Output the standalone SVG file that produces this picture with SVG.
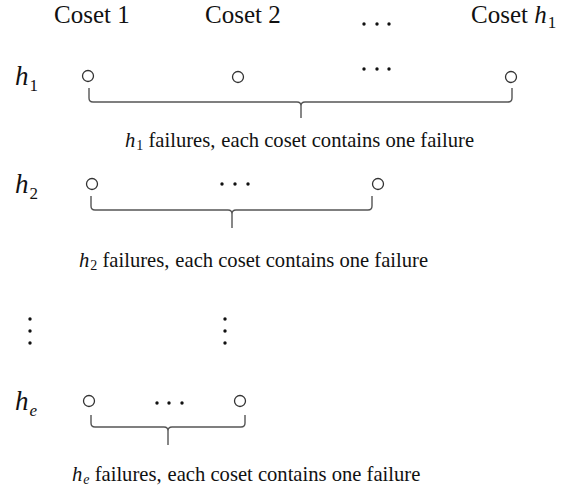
<svg xmlns="http://www.w3.org/2000/svg" width="579" height="492" viewBox="0 0 579 492">
<style>
.hd{font-family:"Liberation Serif","Times New Roman",serif;font-size:25px;fill:#111}
.lb{font-family:"Liberation Serif","Times New Roman",serif;font-size:27px;font-style:italic;fill:#111}
.sub{font-size:17px;font-style:normal}
.tx{font-family:"Liberation Serif","Times New Roman",serif;font-size:20.6px;fill:#111}
.ts{font-size:14px;font-style:normal}
.it{font-style:italic}
.node{fill:#fff;stroke:#333;stroke-width:1.3}
.br{fill:none;stroke:#555;stroke-width:1.4}
.dot{fill:#111}
</style>
<defs>
<circle id="d" r="1.7"/>
</defs>
<g id="headings">
<text class="hd" x="54" y="23">Coset 1</text>
<text class="hd" x="205" y="23">Coset 2</text>
<g class="dot"><use href="#d" x="364" y="24"/><use href="#d" x="377" y="24"/><use href="#d" x="389" y="24"/></g>
<text class="hd" x="471" y="23">Coset <tspan style="font-style:italic">h</tspan><tspan class="sub" dx="1" dy="5">1</tspan></text>
</g>
<g id="row1">
<text class="lb" x="15" y="85">h<tspan class="sub" dx="1" dy="6">1</tspan></text>
<circle class="node" cx="88" cy="76" r="5.5"/>
<circle class="node" cx="238" cy="77" r="5.5"/>
<g class="dot"><use href="#d" x="364" y="69"/><use href="#d" x="377" y="69"/><use href="#d" x="389" y="69"/></g>
<circle class="node" cx="511" cy="77" r="5.5"/>
</g>
<g id="row2">
<text class="lb" x="15" y="193">h<tspan class="sub" dx="1" dy="6">2</tspan></text>
<circle class="node" cx="92" cy="184" r="5.5"/>
<g class="dot"><use href="#d" x="222" y="184"/><use href="#d" x="235" y="184"/><use href="#d" x="248" y="184"/></g>
<circle class="node" cx="378" cy="184" r="5.5"/>
</g>
<g id="vdots" class="dot">
<use href="#d" x="30" y="319"/><use href="#d" x="30" y="331"/><use href="#d" x="30" y="343"/>
<use href="#d" x="225" y="319"/><use href="#d" x="225" y="331"/><use href="#d" x="225" y="343"/>
</g>
<g id="row3">
<text class="lb" x="15" y="410">h<tspan class="sub" style="font-style:italic" dx="1" dy="6">e</tspan></text>
<circle class="node" cx="89" cy="401" r="5.5"/>
<g class="dot"><use href="#d" x="157" y="403"/><use href="#d" x="169" y="403"/><use href="#d" x="182" y="403"/></g>
<circle class="node" cx="240" cy="401" r="5.5"/>
</g>
<g id="connectors">
<path class="br" d="M89,88 V98 Q89,102 93,102 H297 Q301,102 301,106 V118 M301,106 Q301,102 305,102 H508 Q512,102 512,98 V88"/>
<path class="br" d="M91,196 V206 Q91,210 95,210 H228 Q232,210 232,214 V228 M232,214 Q232,210 236,210 H368 Q372,210 372,206 V196"/>
<path class="br" d="M91,415 V423 Q91,427 95,427 H164 Q168,427 168,431 V445 M168,431 Q168,427 172,427 H241 Q245,427 245,423 V415"/>
</g>
<g id="captions">
<text class="tx" x="125" y="147"><tspan class="it">h</tspan><tspan class="ts" dx="1" dy="3">1</tspan><tspan dy="-3"> failures,</tspan><tspan dx="6">each coset contains one failure</tspan></text>
<text class="tx" x="79" y="267"><tspan class="it">h</tspan><tspan class="ts" dx="1" dy="3">2</tspan><tspan dy="-3"> failures,</tspan><tspan dx="6">each coset contains one failure</tspan></text>
<text class="tx" x="72" y="481"><tspan class="it">h</tspan><tspan class="ts it" dx="1" dy="3">e</tspan><tspan dy="-3"> failures,</tspan><tspan dx="6">each coset contains one failure</tspan></text>
</g>
</svg>
